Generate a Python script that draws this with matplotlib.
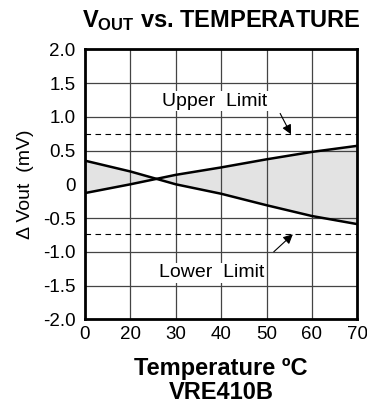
import numpy as np
import matplotlib.pyplot as plt

plt.rcParams['font.family'] = ['Liberation Sans', 'DejaVu Sans']
plt.rcParams['mathtext.fontset'] = 'custom'
plt.rcParams['mathtext.rm'] = 'Liberation Sans'
plt.rcParams['mathtext.bf'] = 'Liberation Sans:bold'

# temperature axis (first interval is 0 -> 20)
temp_labels = ['0', '20', '30', '40', '50', '60', '70']
# the two boundary curves of the output change (mV)
vout_a = [0.35, 0.19, 0.0, -0.14, -0.31, -0.47, -0.59]
vout_b = [-0.13, 0.0, 0.14, 0.25, 0.37, 0.48, 0.57]
upper_limit = 0.74
lower_limit = -0.74
y_ticks = [2.0, 1.5, 1.0, 0.5, 0.0, -0.5, -1.0, -1.5, -2.0]
y_labels = ['2.0', '1.5', '1.0', '0.5', '0', '-0.5', '-1.0', '-1.5', '-2.0']

x = np.arange(len(temp_labels))

fig = plt.figure(figsize=(3.67, 4.08), dpi=100)
ax = fig.add_axes([85 / 367, 1 - 319.3 / 408, 272.3 / 367, 270 / 408])

# grid (no line at zero)
for xi in x[1:-1]:
    ax.axvline(xi, color='#444444', lw=0.9, zorder=1)
for yv in y_ticks[1:-1]:
    if yv != 0:
        ax.axhline(yv, color='#444444', lw=0.9, zorder=1)

ax.fill_between(x, vout_a, vout_b, color='#e3e3e3', lw=0, zorder=0)
ax.plot(x, vout_a, color='black', lw=1.8, zorder=3)
ax.plot(x, vout_b, color='black', lw=1.8, zorder=3)

ax.axhline(upper_limit, color='black', lw=0.8, ls=(0, (5, 4)), zorder=2)
ax.axhline(lower_limit, color='black', lw=0.8, ls=(0, (5, 4)), zorder=2)

box = dict(fc='white', ec='none', pad=1)
ax.text(2.86, 1.23, 'Upper  Limit', ha='center', va='center', fontsize=14, bbox=box, zorder=4)
ax.text(2.80, -1.31, 'Lower  Limit', ha='center', va='center', fontsize=14, bbox=box, zorder=4)
arrow = dict(arrowstyle='-|>', color='black', lw=0.8, mutation_scale=14, shrinkA=0, shrinkB=0)
ax.annotate('', xy=(4.54, upper_limit), xytext=(4.30, 1.05), arrowprops=arrow, zorder=4)
ax.annotate('', xy=(4.58, lower_limit), xytext=(4.16, -1.0), arrowprops=arrow, zorder=4)

ax.set_xlim(0, 6)
ax.set_ylim(-2, 2)
ax.set_xticks(x)
ax.set_xticklabels(temp_labels)
ax.set_yticks(y_ticks)
ax.set_yticklabels(y_labels)
ax.tick_params(length=0, labelsize=13.5)
ax.tick_params(axis='y', pad=7)
ax.tick_params(axis='x', pad=5)
for s in ax.spines.values():
    s.set_linewidth(2)

ax.set_ylabel('\u0394 Vout  (mV)', fontsize=14, labelpad=6)

fig.text(221 / 367, 1 - 21 / 408, r'$\mathbf{V_{OUT}}$ vs. TEMPERATURE',
         ha='center', va='center', fontsize=17, fontweight='bold')
fig.text(221 / 367, 1 - 357 / 408, 'Temperature \u00baC\nVRE410B',
         ha='center', va='top', fontsize=17, fontweight='bold', linespacing=1.05)

fig.savefig('out.png', dpi=100)
